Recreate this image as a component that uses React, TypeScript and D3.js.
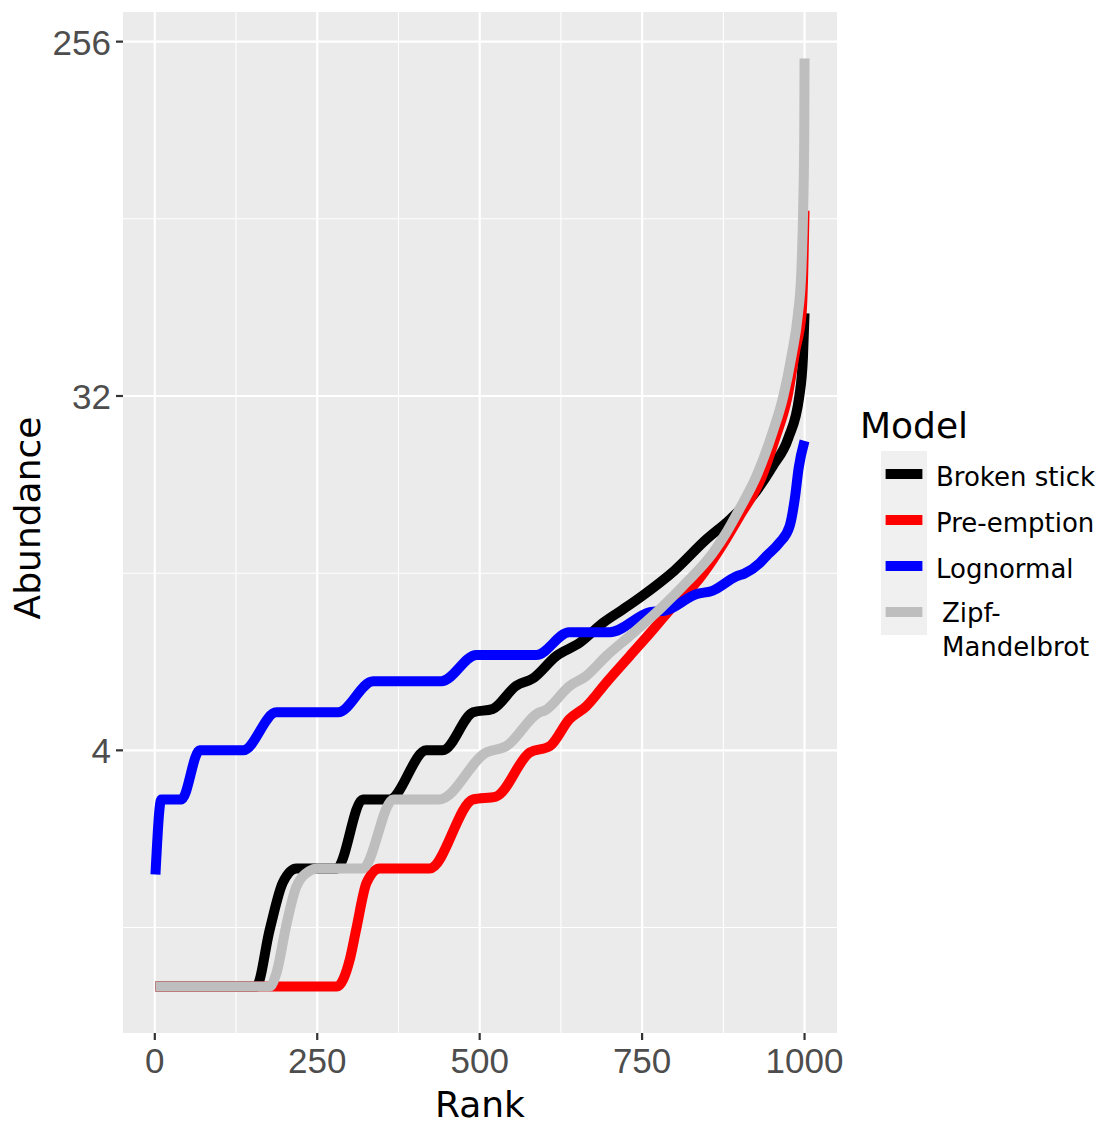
import React from 'react';
import * as d3 from 'd3';

const width = 1107;
const height = 1127;
const panel = { left: 123, right: 837, top: 12, bottom: 1033 };

// axis breaks
const xTicks = [0, 250, 500, 750, 1000];
const xMinor = [125, 375, 625, 875];
const yTicks = [4, 32, 256];
const yMinor = [1.414, 11.31, 90.51];

// rank / abundance pairs
const brokenStick = [
  [1, 1], [156, 1], [177, 1.4], [197, 1.84], [218, 2], [280, 2], [320, 3], [361, 3],
  [418, 4], [443, 4], [490, 5], [520, 5.1], [556, 5.84], [582, 6.1], [618, 6.96],
  [654, 7.52], [690, 8.46], [720, 9.14], [750, 9.9], [800, 11.5], [849, 13.8],
  [885, 15.5], [920, 17.8], [951, 21.2], [975, 25], [992, 32], [997.5, 40], [1000, 52],
];
const preEmption = [
  [1, 1], [280, 1], [300, 1.17], [310, 1.4], [326, 1.84], [346, 2], [423, 2],
  [490, 3], [525, 3.05], [577, 3.95], [608, 4.1], [638, 4.8], [664, 5.18],
  [695, 5.96], [731, 6.96], [767, 8.13], [797, 9.3], [833, 10.7], [879, 13.8],
  [900, 15.8], [933, 19.7], [955, 25], [974, 32], [986, 42], [995.5, 52],
  [998, 66], [1000, 95],
];
const lognormal = [
  [1, 1.93], [10, 3], [41, 3], [69, 4], [136, 4], [187, 5], [282, 5], [336, 6],
  [441, 6], [495, 7], [587, 7], [638, 8], [700, 8], [762, 9], [787, 9.1],
  [833, 10], [858, 10.2], [895, 11.1], [908, 11.3], [931, 12], [941, 12.5],
  [961, 13.5], [977, 14.9], [985, 17.5], [991, 21], [1000, 24.6],
];
const zipfMandelbrot = [
  [1, 1], [177, 1], [187, 1.08], [203, 1.45], [218, 1.8], [238, 1.97], [250, 2],
  [320, 2], [367, 3], [438, 3], [510, 3.95], [541, 4.1], [592, 5], [600, 5.05],
  [638, 5.83], [664, 6.19], [695, 6.96], [731, 7.83], [777, 9.15], [818, 10.7],
  [859, 12.75], [880, 14.4], [900, 16.5], [926, 20], [951, 25.9], [967.5, 32],
  [980, 40.5], [990, 52], [995, 66], [998, 98], [999.5, 145], [1000, 232],
];

const modelNames = ['Broken stick', 'Pre-emption', 'Lognormal', 'Zipf-\nMandelbrot'];
const modelColors = ['#000000', '#ff0000', '#0000ff', '#bebebe'];
const modelData = [brokenStick, preEmption, lognormal, zipfMandelbrot];

const tickFont = '"Liberation Sans", Arial, sans-serif';
const titleFont = '"DejaVu Sans", Verdana, sans-serif';

export default function App() {
  // ggplot-ish 5% expansion on both axes
  const xr = [1, 1000];
  const xpad = (xr[1] - xr[0]) * 0.05;
  const x = d3.scaleLinear().domain([xr[0] - xpad, xr[1] + xpad]).range([panel.left, panel.right]);

  const lmax = Math.log2(232);
  const ypad = lmax * 0.05;
  const y = d3.scaleLog().base(2)
    .domain([Math.pow(2, -ypad), Math.pow(2, lmax + ypad)])
    .range([panel.bottom, panel.top]);

  const line = d3.line<number[]>()
    .x(d => x(d[0]))
    .y(d => y(d[1]))
    .curve(d3.curveMonotoneX);

  const legendX = 881;
  const legendY = 451;
  const keySize = 46;

  return (
    <svg width={width} height={height} style={{ position: 'absolute', left: 0, top: 0, background: '#fff' }}>
      <rect x={panel.left} y={panel.top} width={panel.right - panel.left} height={panel.bottom - panel.top} fill="#ebebeb" />
      {xMinor.map(v => (
        <line key={'xm' + v} x1={x(v)} x2={x(v)} y1={panel.top} y2={panel.bottom} stroke="#fff" strokeWidth={1.1} />
      ))}
      {yMinor.map(v => (
        <line key={'ym' + v} x1={panel.left} x2={panel.right} y1={y(v)} y2={y(v)} stroke="#fff" strokeWidth={1.1} />
      ))}
      {xTicks.map(v => (
        <line key={'xg' + v} x1={x(v)} x2={x(v)} y1={panel.top} y2={panel.bottom} stroke="#fff" strokeWidth={2.2} />
      ))}
      {yTicks.map(v => (
        <line key={'yg' + v} x1={panel.left} x2={panel.right} y1={y(v)} y2={y(v)} stroke="#fff" strokeWidth={2.2} />
      ))}

      {modelData.map((d, i) => (
        <path key={modelNames[i]} d={line(d) || ''} fill="none" stroke={modelColors[i]}
          strokeWidth={10} strokeLinecap="butt" strokeLinejoin="round" />
      ))}

      {/* axes */}
      {xTicks.map(v => (
        <g key={'xt' + v}>
          <line x1={x(v)} x2={x(v)} y1={panel.bottom} y2={panel.bottom + 7} stroke="#333" strokeWidth={2.2} />
          <text x={x(v)} y={1073} textAnchor="middle" fontFamily={tickFont} fontSize={35} fill="#4d4d4d">{v}</text>
        </g>
      ))}
      {yTicks.map(v => (
        <g key={'yt' + v}>
          <line x1={panel.left - 7} x2={panel.left} y1={y(v)} y2={y(v)} stroke="#333" strokeWidth={2.2} />
          <text x={111} y={y(v) + 13} textAnchor="end" fontFamily={tickFont} fontSize={35} fill="#4d4d4d">{v}</text>
        </g>
      ))}
      <text x={(panel.left + panel.right) / 2} y={1117} textAnchor="middle" fontFamily={titleFont} fontSize={36} fill="#000">Rank</text>
      <text transform={`translate(40,518) rotate(-90)`} textAnchor="middle"
        fontFamily={titleFont} fontSize={36} fill="#000">Abundance</text>

      {/* legend */}
      <text x={860} y={438} fontFamily={titleFont} fontSize={36} fill="#000">Model</text>
      {modelNames.map((name, i) => {
        const cy = legendY + keySize * i + keySize / 2;
        const lines = name.split('\n');
        return (
          <g key={'lg' + name}>
            <rect x={legendX} y={legendY + keySize * i} width={keySize} height={keySize} fill="#f0f0f0" />
            <line x1={legendX + 4.6} x2={legendX + keySize - 4.6} y1={cy} y2={cy} stroke={modelColors[i]} strokeWidth={10} />
            {lines.length === 1 ? (
              <text x={936} y={cy + 12} fontFamily={titleFont} fontSize={26} fill="#000">{name}</text>
            ) : (
              lines.map((t, j) => (
                <text key={t} x={942} y={cy + 10 + j * 34} fontFamily={titleFont} fontSize={26} fill="#000">{t}</text>
              ))
            )}
          </g>
        );
      })}
    </svg>
  );
}
